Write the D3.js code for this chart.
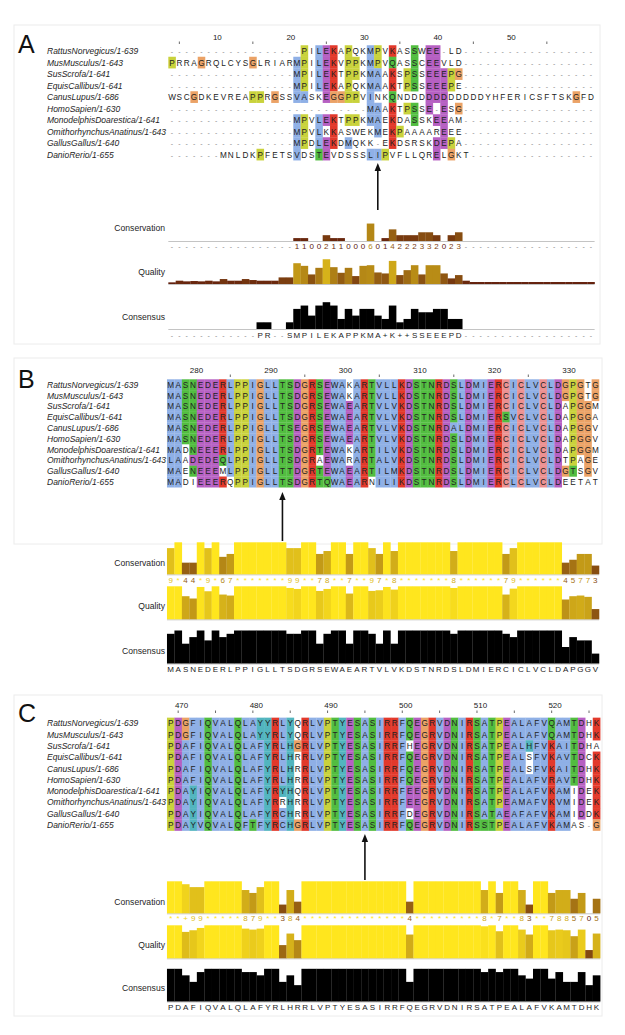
<!DOCTYPE html>
<html><head><meta charset="utf-8">
<script src="https://cdn.jsdelivr.net/npm/d3@7"></script>
<style>
body{margin:0;background:#fff}
svg text{font-family:"Liberation Sans",Arial,Helvetica,sans-serif}
</style>
</head><body>
<svg id="fig" width="625" height="1035"></svg>
<script>
// ---------------- DATA ----------------
const sequenceNames = ["RattusNorvegicus/1-639","MusMusculus/1-643","SusScrofa/1-641","EquisCallibus/1-641",
  "CanusLupus/1-686","HomoSapien/1-630","MonodelphisDoarestica/1-641","OmithorhynchusAnatinus/1-643",
  "GallusGallus/1-640","DanioRerio/1-655"];

const seqA = [
  "------------------PILEKAPQKMPVKASSWEE-LD------------------",
  "PRRAGRQLCYSGLRIARMPILEKVPPKMPVQASSCEEVLD------------------",
  "-----------------MPILEKTPPKMAAKSPSSEEEPG------------------",
  "-----------------MPILEKAPQKMAAKTPSSEEEPE------------------",
  "WSCGDKEVREAPPRGSSVASKEGGPPVINKQNDDDDDDDDDDDYHFERICSFTSKGFD",
  "---------------------------MAAKTPSSE-ESG------------------",
  "-----------------MPVLEKTPPKMAEKDASSKEEAM------------------",
  "-----------------MPVLKKASWEKMEKPAAAAREEE------------------",
  "-----------------MPDLEKDMQKK-EKDSRSKDEPA------------------",
  "-------MNLDKPFETSVDSTEVDSSSLIPVFLLQRELGKT-----------------"
];
const seqB = [
  "MASNEDERLPPIGLLTSDGRSEWAKARTVLLKDSTNRDSLDMIERCICLVCLDGPGTG",
  "MASNEDERLPPIGLLTSDGRSEWAKARTVLLKDSTNRDSLDMIERCICLVCLDGPGTG",
  "MASNEDERLPPIGLLTSDGRSEWAEARTVLVKDSTNRDSLDMIERCICLVCLDAPGGM",
  "MASNEDERLPPIGLLTSDGRSEWAEARTVLVKDSTNRDSLDMIERSVCLVCLDAPGGA",
  "MASNEDERLPPIGLLTSEGRSEWAEARTVLVKDSTNRDALDMIERCICLVCLDAPGGV",
  "MASNEDERLPPIGLLTSDGRSEWAEARTVLVKDSTNRDSLDMIERCICLVCLDAPGGV",
  "MADNEEERLPPIGLLTSDGRTEWAKARTILVKDSTNRDSLDMIERCICLVCLDAPGGM",
  "LAADEDEQLPPIGLLTSDGRAEWARARTALVKDSTNRDSLDMIERCICLVCLDTPAGE",
  "MAENEEEMLPPIGLLTTDGRTEWAEARTILMKDSTNRDSLDMIERCICLVCLDGTSGV",
  "MADIEEERQPPIGLLTSDGRTQWAEARNILIKDSTNRDSLDMIERCLCLVCLDEETAT"
];
const seqC = [
  "PDGFIQVALQLAYYRLYQRLVPTYESASIRRFQEGRVDNIRSATPEALAFVQAMTDHK",
  "PDGFIQVALQLAYYRLYQRLVPTYESASIRRFQEGRVDNIRSATPEALAFVQAMTDHK",
  "PDAFIQVALQLAFYRLHGRLVPTYESASIRRFHEGRVDNIRSATPEALHFVKAITDHA",
  "PDAFIQVALQLAFYRLHRRLVPTYESASIRRFQEGRVDNIRSATPEALSFVKAVTDCK",
  "PDAFIQVALQLAFYRLHRRLVPTYESASIRRFQEGRVDNIRSATPEALSFVKAITDHK",
  "PDAFIQVALQLAFYRLHRRLVPTYESASIRRFQEGRVDNIRSATPEALAFVRAVTDHK",
  "PDAYIQVALQLAFYRYHQRLVPTYESASIRRFEEGRVDNIRSATPEALAFVKAMIDEK",
  "PDAYIQVALQLAFYRRHRRLVPTYESASIRRFEEGRVDNIRSATPEAMAFVKVMIDEK",
  "PDAYIQVALQLAFYRCHRRLVPTYESASIRRFDEGRVDNIRSATAEAFAFVKAMIDDK",
  "PDAYVQVALQFTFYRCHGRLVPTYESASIRRFQEGRVDNIRSSTPEALAFVKAMAS-G"
];

// conservation scores as printed (* = 11, + = 10, - = not scored)
const conservationA = "-----------------11002110006014222332023------------------";
const conservationB = "9*44*9*67*******99**78**7**97*8*******8******79******45773";
const conservationC = "**+99*****879**384**************4*********8*7**83**7885705";

// quality (percent of full bar height)
const qualityA = [5,10,8,9,8,10,8,15,10,10,15,12,10,10,10,20,20,
  63,55,29,49,75,51,34,49,24,55,57,35,32,70,27,42,57,29,57,57,32,17,27,10,
  6,6,6,6,6,6,6,6,6,6,6,6,6,6,6,6,6];
const qualityB = [100,100,70,63,98,85,100,75,72,100,100,100,100,100,100,100,95,92,100,100,
  86,92,100,100,78,100,100,86,88,98,90,100,100,100,100,100,100,100,95,100,
  100,100,100,100,100,75,93,100,100,100,100,100,100,60,70,72,68,31];
const qualityC = [100,100,80,85,92,100,100,100,100,100,90,87,90,100,100,40,75,55,100,100,
  100,100,100,100,100,100,100,100,100,100,100,100,72,100,100,100,100,100,100,100,
  100,100,97,100,82,100,100,87,72,100,100,85,87,85,67,87,25,75];

// consensus lines as printed
const consensusA = "------------PR--SMPILEKAPPKMA+K++SSEEEPD------------------";
const consensusB = "MASNEDERLPPIGLLTSDGRSEWAEARTVLVKDSTNRDSLDMIERCICLVCLDAPGGV";
const consensusC = "PDAFIQVALQLAFYRLHRRLVPTYESASIRRFQEGRVDNIRSATPEALAFVKAMTDHK";

// ruler tick labels and sequence position of the first shown column
const rulerLabelsA = [10,20,30,40,50];
const rulerLabelsB = [280,290,300,310,320,330];
const rulerLabelsC = [470,480,490,500,510,520];
const firstPosA = 4, firstPosB = 277, firstPosC = 469;
const arrowColumns = [28, 15, 26];
const panelLetters = ["A","B","C"];

// ---------------- STYLE / LAYOUT ----------------
const CLX = {blue:"#8fb0e6", red:"#e2392b", green:"#52bd40", magenta:"#b660c2",
  orange:"#eba266", yellow:"#c9d23c", cyan:"#52b5bf", pink:"#ec9191"};

const layouts = [
  {x0:172, w:7.35, y0:51, h:11.5, letterY:53, rulerY:40, tickY:41.5, minorTicksOnly:true,
   arrowTop:163, arrowBottom:210, frame:[14,25,600,344],
   consLabel:231, consBase:241, consText:249, qualLabel:275, qualBase:284,
   cnsLabel:320, cnsBase:329, cnsText:338, cnsH:33.5},
  {x0:170.7, w:7.45, y0:384.7, h:10.8, letterY:388, rulerY:373, tickY:374.5, minorTicksOnly:true,
   arrowTop:492, arrowBottom:541, frame:[14,358,602,544],
   consLabel:565.5, consBase:574.3, consText:583, qualLabel:609, qualBase:619.3,
   cnsLabel:654, cnsBase:663.5, cnsText:672, cnsH:33},
  {x0:170.7, w:7.47, y0:723.3, h:11.3, letterY:722, rulerY:708, tickY:710.5, minorTicksOnly:false,
   arrowTop:834, arrowBottom:880, frame:[14,695,602,1016],
   consLabel:904.5, consBase:913.3, consText:921, qualLabel:948, qualBase:958.3,
   cnsLabel:991, cnsBase:1001.5, cnsText:1010, cnsH:32.7}
];

const panels = [
  {seqs:seqA, cons:conservationA, qual:qualityA, consensus:consensusA, ruler:rulerLabelsA, first:firstPosA},
  {seqs:seqB, cons:conservationB, qual:qualityB, consensus:consensusB, ruler:rulerLabelsB, first:firstPosB},
  {seqs:seqC, cons:conservationC, qual:qualityC, consensus:consensusC, ruler:rulerLabelsC, first:firstPosC}
];

// Clustal X colour rules (percentages over all sequences)
function clustalColours(seqs){
  const N = seqs.length, L = seqs[0].length;
  const out = seqs.map(() => new Array(L).fill(null));
  for (let j = 0; j < L; j++){
    const col = seqs.map(s => s[j]);
    const pct = set => 100 * col.filter(c => set.includes(c)).length / N;
    const c85 = r => pct(r) > 85;
    const hyd60 = pct("WLVIMAFCYHP") > 60, hyd80 = pct("WLVIMAFCYHP") > 80;
    const hydAny = hyd60 || hyd80 || "ACFHILMVWYP".split("").some(c85) || pct("P") > 50;
    const ts = pct("TS") > 50, kr = pct("KR") > 60, ed = pct("ED") > 50, qe = pct("QE") > 50, nn = pct("N") > 50;
    seqs.forEach((s, i) => {
      const r = s[j]; let c = null;
      switch (r){
        case "G": c = "orange"; break;
        case "P": c = "yellow"; break;
        case "T": if (ts || c85("S") || c85("T") || hyd60 || hyd80) c = "green"; break;
        case "S": if (ts || c85("S") || c85("T") || hyd80) c = "green"; break;
        case "N": if (nn || c85("N") || c85("D")) c = "green"; break;
        case "Q": if (qe || c85("Q") || c85("E") || kr || c85("K") || c85("R")) c = "green"; break;
        case "W": case "L": case "V": case "I": case "M": case "F": if (hydAny) c = "blue"; break;
        case "A": if (hydAny || c85("T") || c85("S")) c = "blue"; break;
        case "C": if (c85("C")) c = "pink"; else if (hydAny || c85("S")) c = "blue"; break;
        case "H": case "Y": if (hydAny) c = "cyan"; break;
        case "E": if (ed || c85("D") || c85("E") || qe || c85("Q")) c = "magenta"; break;
        case "D": if (ed || c85("D") || c85("E") || nn || c85("N")) c = "magenta"; break;
        case "K": case "R": if (kr || c85("K") || c85("R") || c85("Q")) c = "red"; break;
      }
      out[i][j] = c;
    });
  }
  return out;
}

function annColour(f){
  f = Math.max(0, Math.min(1, f));
  return d3.rgb(90 + 165*f, 20 + 210*f, 12 + 18*f).formatHex();
}
function consValue(ch){
  if (ch === "*") return 11;
  if (ch === "+") return 10;
  if (/[0-9]/.test(ch)) return +ch;
  return null;
}

const svg = d3.select("#fig");

panels.forEach((p, pi) => {
  const L = layouts[pi];
  const g = svg.append("g");
  const n = p.seqs[0].length, m = p.seqs.length;
  const x = d3.scaleLinear().domain([0, n - 1]).range([L.x0, L.x0 + (n - 1) * L.w]);
  const y = d3.scaleLinear().domain([0, m - 1]).range([L.y0, L.y0 + (m - 1) * L.h]);
  const left = x(0) - L.w/2, right = x(n - 1) + L.w/2;

  // faint panel frame
  g.append("rect").attr("x", L.frame[0]).attr("y", L.frame[1])
    .attr("width", L.frame[2] - L.frame[0]).attr("height", L.frame[3] - L.frame[1])
    .attr("fill", "none").attr("stroke", "#ececec").attr("stroke-width", 1);

  // panel letter
  g.append("text").attr("x", 18).attr("y", L.letterY).attr("font-size", 25)
    .attr("fill", "#111").text(panelLetters[pi]);

  // ruler
  const rulerG = g.append("g");
  rulerG.selectAll("text").data(p.ruler).join("text")
    .attr("x", d => x(d - p.first) - L.w/2 + 0.5).attr("y", L.rulerY)
    .attr("font-size", 8).attr("fill", "#222").text(d => d);
  const ticks = [];
  for (let pos = Math.ceil((p.first) / 5) * 5; pos - p.first < n; pos += 5){
    if (L.minorTicksOnly && pos % 10 === 0) continue;
    ticks.push(pos);
  }
  rulerG.selectAll("line").data(ticks).join("line")
    .attr("x1", d => x(d - p.first)).attr("x2", d => x(d - p.first))
    .attr("y1", L.tickY).attr("y2", L.tickY + 2.5)
    .attr("stroke", "#444").attr("stroke-width", 0.8);

  // sequence names
  g.append("g").selectAll("text").data(sequenceNames).join("text")
    .attr("x", 47).attr("y", (d, i) => y(i) + 3)
    .attr("font-size", 8.5).attr("font-style", "italic").attr("fill", "#1e1e1e")
    .text(d => d);

  // residue cells
  const colours = clustalColours(p.seqs);
  const cells = [];
  p.seqs.forEach((s, i) => Array.from(s).forEach((r, j) => cells.push({i, j, r, c: colours[i][j]})));
  g.append("g").selectAll("rect").data(cells.filter(d => d.c)).join("rect")
    .attr("x", d => x(d.j) - L.w/2).attr("y", d => y(d.i) - L.h/2)
    .attr("width", L.w + 0.2).attr("height", L.h + 0.2)
    .attr("fill", d => CLX[d.c]);
  g.append("g").selectAll("text").data(cells).join("text")
    .attr("x", d => x(d.j)).attr("y", d => y(d.i) + 3)
    .attr("text-anchor", "middle")
    .attr("font-size", d => d.r === "-" ? 7 : 8.2)
    .attr("fill", d => d.r === "-" ? "#8a8a8a" : "#222")
    .text(d => d.r);

  // arrow
  const ax = x(arrowColumns[pi]);
  g.append("line").attr("x1", ax).attr("x2", ax).attr("y1", L.arrowBottom).attr("y2", L.arrowTop + 6)
    .attr("stroke", "#111").attr("stroke-width", 1.6);
  g.append("path").attr("d", `M${ax},${L.arrowTop} L${ax-3.2},${L.arrowTop+8} L${ax+3.2},${L.arrowTop+8} Z`)
    .attr("fill", "#111");

  // annotation labels
  const labels = [["Conservation", L.consLabel], ["Quality", L.qualLabel], ["Consensus", L.cnsLabel]];
  g.append("g").selectAll("text").data(labels).join("text")
    .attr("x", 165).attr("y", d => d[1]).attr("text-anchor", "end")
    .attr("font-size", 8.6).attr("fill", "#1e1e1e").text(d => d[0]);

  // conservation histogram
  const consScale = d3.scaleLinear().domain([0, 11]).range([0, 32]);
  const consData = Array.from(p.cons).map((ch, j) => ({j, ch, v: consValue(ch)}));
  g.append("line").attr("x1", left).attr("x2", right).attr("y1", L.consBase + 0.5).attr("y2", L.consBase + 0.5)
    .attr("stroke", "#b5b5b5").attr("stroke-width", 0.8);
  g.append("g").selectAll("rect").data(consData.filter(d => d.v)).join("rect")
    .attr("x", d => x(d.j) - L.w/2).attr("y", d => L.consBase - consScale(d.v))
    .attr("width", L.w + 0.2).attr("height", d => consScale(d.v))
    .attr("fill", d => annColour(d.v / 11));
  g.append("g").selectAll("text").data(consData).join("text")
    .attr("x", d => x(d.j)).attr("y", L.consText).attr("text-anchor", "middle")
    .attr("font-size", d => d.v === null ? 7 : 8)
    .attr("fill", d => d.v === null ? "#8a8a8a" : annColour(d.v / 11))
    .text(d => d.ch);

  // quality histogram
  const qualScale = d3.scaleLinear().domain([0, 100]).range([0, 33]);
  g.append("line").attr("x1", left).attr("x2", right).attr("y1", L.qualBase + 0.5).attr("y2", L.qualBase + 0.5)
    .attr("stroke", "#b5b5b5").attr("stroke-width", 0.8);
  g.append("g").selectAll("rect").data(p.qual.map((v, j) => ({v, j}))).join("rect")
    .attr("x", d => x(d.j) - L.w/2).attr("y", d => L.qualBase - qualScale(d.v))
    .attr("width", L.w + 0.2).attr("height", d => qualScale(d.v))
    .attr("fill", d => annColour(d.v / 100));

  // consensus histogram (percent identity of the consensus residue)
  const cnsScale = d3.scaleLinear().domain([0, 100]).range([0, L.cnsH]);
  const cnsData = Array.from(p.consensus).map((ch, j) => {
    const col = p.seqs.map(s => s[j]).filter(c => c !== "-");
    let count = 0;
    if (ch === "+"){
      const counts = d3.rollup(col, v => v.length, c => c);
      count = d3.max(Array.from(counts.values())) || 0;
    } else if (ch !== "-"){
      count = col.filter(c => c === ch).length;
    }
    return {j, ch, pct: 100 * count / m};
  });
  g.append("line").attr("x1", left).attr("x2", right).attr("y1", L.cnsBase + 0.5).attr("y2", L.cnsBase + 0.5)
    .attr("stroke", "#b5b5b5").attr("stroke-width", 0.8);
  g.append("g").selectAll("rect").data(cnsData.filter(d => d.pct > 0)).join("rect")
    .attr("x", d => x(d.j) - L.w/2).attr("y", d => L.cnsBase - cnsScale(d.pct))
    .attr("width", L.w + 0.2).attr("height", d => cnsScale(d.pct))
    .attr("fill", "#000");
  g.append("g").selectAll("text").data(cnsData).join("text")
    .attr("x", d => x(d.j)).attr("y", L.cnsText).attr("text-anchor", "middle")
    .attr("font-size", d => d.ch === "-" ? 7 : 8)
    .attr("fill", d => d.ch === "-" ? "#8a8a8a" : "#222")
    .text(d => d.ch);
});
</script>
</body></html>
